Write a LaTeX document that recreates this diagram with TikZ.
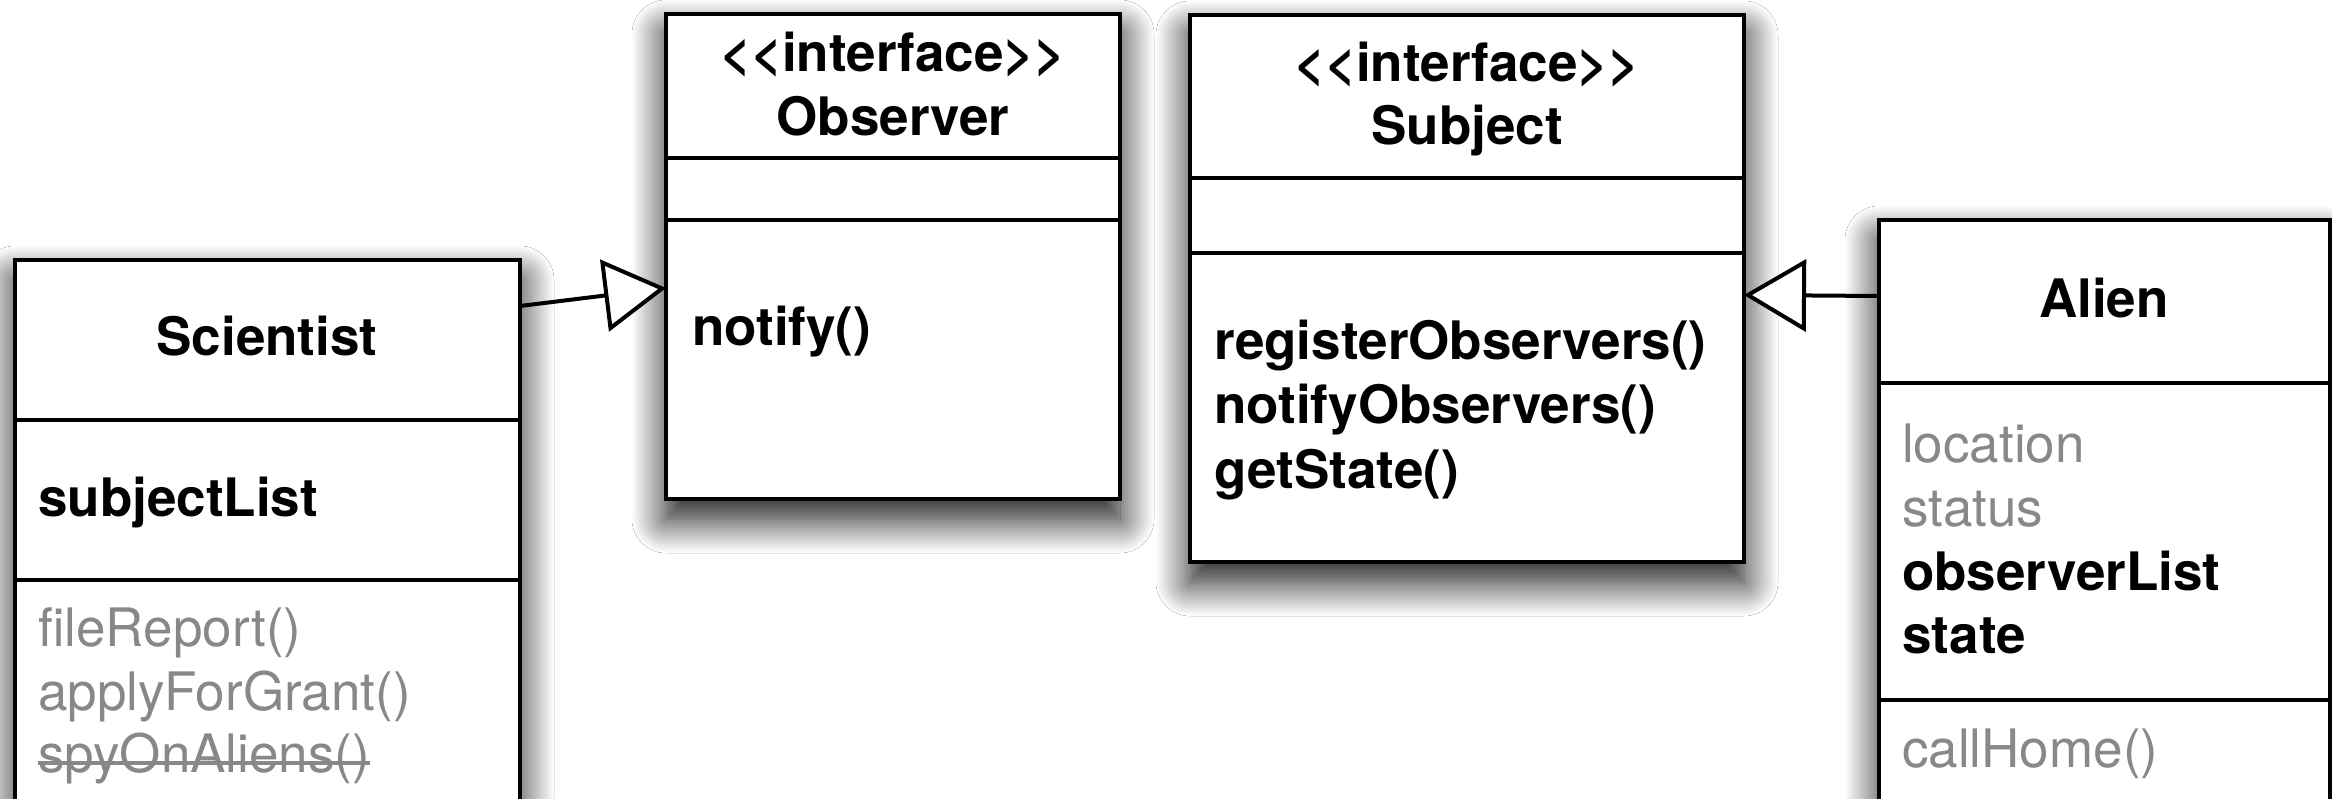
\documentclass[tikz,border=0pt]{standalone}
\usepackage{fontspec}
\setmainfont{TeX Gyre Heros}
\usetikzlibrary{arrows.meta,shadows.blur}

\definecolor{txtgray}{RGB}{136,136,136}

\tikzset{
  umlbox/.style={draw=black, line width=4pt, fill=white, rectangle,
    anchor=north west, inner sep=0pt, outer sep=0pt,
    blur shadow={shadow xshift=0pt, shadow yshift=-20pt,
      shadow blur radius=34pt, shadow blur steps=24, shadow opacity=95}},
  sep/.style={line width=4pt},
  title/.style={anchor=base, inner sep=0pt,
    font=\fontsize{53}{64}\selectfont\bfseries},
  member/.style={anchor=base west, inner sep=0pt,
    font=\fontsize{53}{64}\selectfont\bfseries},
  greymember/.style={anchor=base west, inner sep=0pt, text=txtgray,
    font=\fontsize{53}{64}\selectfont},
  realizes/.style={line width=4pt,
    -{Triangle[open, length=62pt, width=72pt, fill=white]}},
}

\begin{document}
\begin{tikzpicture}[x=1pt, y=-1pt]
  % canvas
  \fill[white] (0,0) rectangle (2332,799);
  \useasboundingbox (0,0) rectangle (2332,799);
  \clip (0,0) rectangle (2332,799);

  % ---- class boxes ----
  \node[umlbox, minimum width=505pt, minimum height=700pt] (sci) at (15,260) {};
  \node[umlbox, minimum width=454pt, minimum height=485pt] (obs) at (666,14) {};
  \node[umlbox, minimum width=554pt, minimum height=547pt] (subj) at (1190,15) {};
  \node[umlbox, minimum width=451pt, minimum height=700pt] (alien) at (1879,220) {};

  % compartment separators
  \draw[sep] (sci.west |- 0,420) -- (sci.east |- 0,420);
  \draw[sep] (sci.west |- 0,580) -- (sci.east |- 0,580);
  \draw[sep] (obs.west |- 0,158) -- (obs.east |- 0,158);
  \draw[sep] (obs.west |- 0,220) -- (obs.east |- 0,220);
  \draw[sep] (subj.west |- 0,178) -- (subj.east |- 0,178);
  \draw[sep] (subj.west |- 0,253) -- (subj.east |- 0,253);
  \draw[sep] (alien.west |- 0,383) -- (alien.east |- 0,383);
  \draw[sep] (alien.west |- 0,700) -- (alien.east |- 0,700);

  % ---- Scientist ----
  \node[title] (scititle) at (267,356) {Scientist};
  \node[member] (scia1) at (38,516) {subjectList};
  \node[greymember] (scim1) at (38,646) {fileReport()};
  \node[greymember] (scim2) at (38,710) {applyForGrant()};
  \node[greymember] (scim3) at (38,772) {spyOnAliens()};
  \draw[txtgray, line width=4pt] ([yshift=9pt]scim3.base west) -- ([yshift=9pt]scim3.base east);

  % ---- Observer ----
  \node[title] (obsst) at (893,72) {{<}{<}interface{>}{>}};
  \node[title] (obstitle) at (893,136) {Observer};
  \node[member] (obsm1) at (692,346) {notify()};

  % ---- Subject ----
  \node[title] (subjst) at (1467,82) {{<}{<}interface{>}{>}};
  \node[title] (subjtitle) at (1467,145) {Subject};
  \node[member] (subjm1) at (1214,360) {registerObservers()};
  \node[member] (subjm2) at (1214,424) {notifyObservers()};
  \node[member] (subjm3) at (1214,488) {getState()};

  % ---- Alien ----
  \node[title] (alientitle) at (2104,318) {Alien};
  \node[greymember] (aliena1) at (1902,462) {location};
  \node[greymember] (aliena2) at (1902,526) {status};
  \node[member] (aliena3) at (1902,590) {observerList};
  \node[member] (aliena4) at (1902,653) {state};
  \node[greymember] (alienm1) at (1902,767) {callHome()};

  % ---- realizations ----
  \draw[realizes] ([yshift=-46pt]sci.north east) -- ([yshift=-274pt]obs.north west);
  \draw[realizes] ([yshift=-76pt]alien.north west) -- ([yshift=-280pt]subj.north east);
\end{tikzpicture}
\end{document}
